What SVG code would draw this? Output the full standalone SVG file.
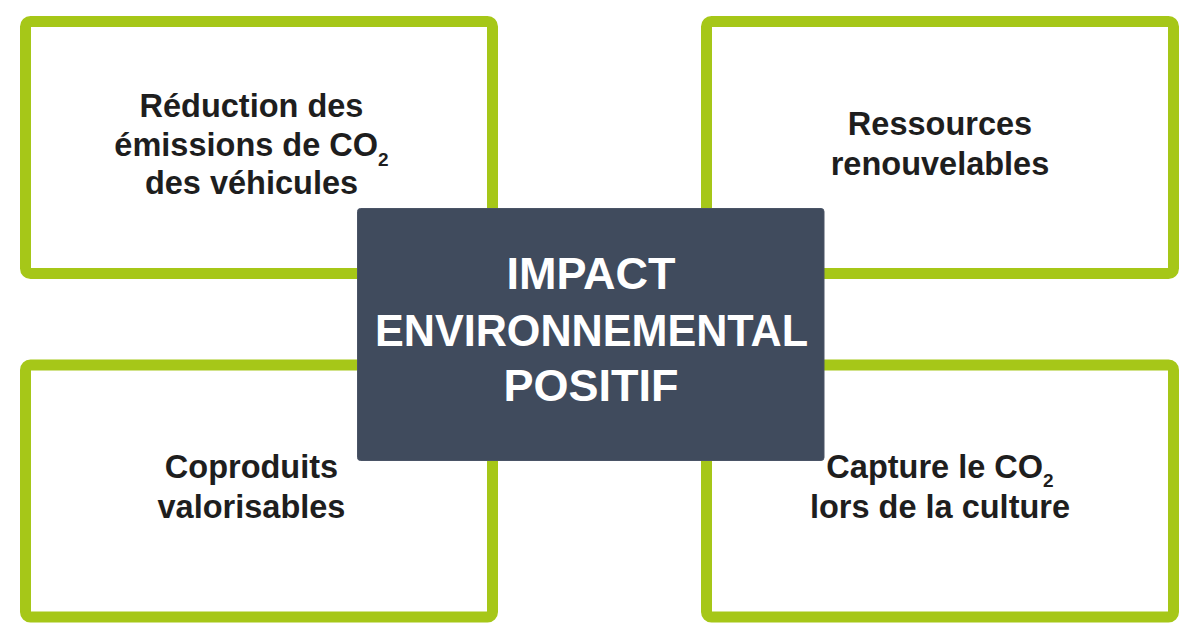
<svg xmlns="http://www.w3.org/2000/svg" width="1200" height="640" viewBox="0 0 1200 640">
<style>
.box{fill:#ffffff;stroke:#a6c718;stroke-width:11}
.lbl{font-family:"Liberation Sans",Arial,sans-serif;font-weight:bold;font-size:32.5px;fill:#1e1e1e;text-anchor:middle}
.sub{font-size:19px}
.ctr{font-family:"Liberation Sans",Arial,sans-serif;font-weight:bold;font-size:45px;fill:#ffffff;text-anchor:middle}
</style>
<rect x="0" y="0" width="1200" height="640" fill="#ffffff"/>
<g id="connectors"></g>
<g id="node-reduction">
<rect class="box" x="25.5" y="21.5" width="467" height="252" rx="5"/>
<text class="lbl" x="251.5" y="116.7">Réduction des</text>
<text class="lbl" x="251.5" y="155.7">émissions de CO<tspan class="sub" dy="10">2</tspan></text>
<text class="lbl" x="251.5" y="193.5">des véhicules</text>
</g>
<g id="node-ressources">
<rect class="box" x="706.5" y="21.5" width="467" height="252" rx="5"/>
<text class="lbl" x="940" y="135">Ressources</text>
<text class="lbl" x="940" y="175">renouvelables</text>
</g>
<g id="node-coproduits">
<rect class="box" x="25.5" y="365" width="467" height="252" rx="5"/>
<text class="lbl" x="251.5" y="478.3">Coproduits</text>
<text class="lbl" x="251.5" y="518.3">valorisables</text>
</g>
<g id="node-capture">
<rect class="box" x="706.5" y="365" width="467" height="252" rx="5"/>
<text class="lbl" x="940" y="478.3">Capture le CO<tspan class="sub" dy="9">2</tspan></text>
<text class="lbl" x="940" y="518.3">lors de la culture</text>
</g>
<g id="node-impact">
<rect x="357.5" y="208.5" width="466.5" height="252" rx="3" fill="#404b5d" stroke="#4a5466" stroke-width="1"/>
<text class="ctr" x="591" y="289">IMPACT</text>
<text class="ctr" x="591.5" y="345.5" textLength="433" lengthAdjust="spacingAndGlyphs">ENVIRONNEMENTAL</text>
<text class="ctr" x="591" y="400.7">POSITIF</text>
</g>
</svg>
